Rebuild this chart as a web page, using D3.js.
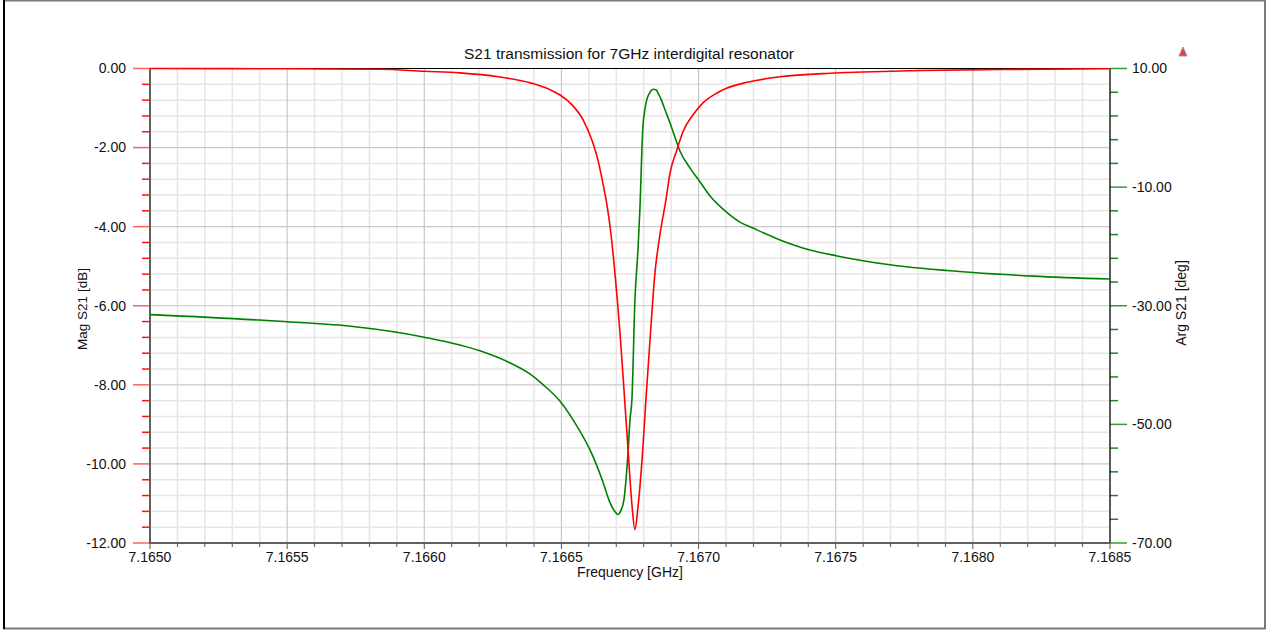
<!DOCTYPE html>
<html>
<head>
<meta charset="utf-8">
<script src="https://cdn.jsdelivr.net/npm/d3@7"></script>
<style>
  body { margin: 0; background: #fff; }
  svg { display: block; font-family: "Liberation Sans", Arial, sans-serif; }
</style>
</head>
<body>
<svg id="chart" width="1277" height="631"></svg>
<script>
// magnitude of S21 [dB] vs frequency [GHz]
var magFreq = [7.165000, 7.165500, 7.165840, 7.166000, 7.166130, 7.166270, 7.166390, 7.166460,
  7.166495, 7.166539, 7.166579, 7.166611, 7.166633, 7.166652, 7.166666, 7.166681, 7.166695,
  7.166714, 7.166728, 7.166743, 7.166757, 7.166768, 7.166779, 7.166794, 7.166808, 7.166823,
  7.166841, 7.166859, 7.166881, 7.166896, 7.166921, 7.166943, 7.166980, 7.167016, 7.167067,
  7.167104, 7.167177, 7.167297, 7.167479, 7.167600, 7.167807, 7.168099, 7.168500];
var magDb = [0.000, -0.008, -0.020, -0.070, -0.110, -0.210, -0.370, -0.540,
  -0.670, -0.920, -1.300, -1.810, -2.310, -2.930, -3.450, -4.210, -5.170,
  -6.730, -8.120, -9.640, -11.030, -11.660, -11.100, -9.890, -8.380, -6.860,
  -5.170, -4.210, -3.320, -2.640, -2.060, -1.600, -1.170, -0.870, -0.620,
  -0.495, -0.350, -0.210, -0.120, -0.090, -0.050, -0.025, -0.008];

// phase of S21 [deg]
var argFreq = [7.165000, 7.165500, 7.165740, 7.166000, 7.166203, 7.166302, 7.166385, 7.166433,
  7.166495, 7.166542, 7.166615, 7.166652, 7.166677, 7.166695, 7.166706, 7.166717, 7.166728,
  7.166735, 7.166743, 7.166750, 7.166757, 7.166768, 7.166779, 7.166786, 7.166797, 7.166804,
  7.166811, 7.166823, 7.166834, 7.166845, 7.166852, 7.166866, 7.166878, 7.166896, 7.166914,
  7.166932, 7.166969, 7.167005, 7.167042, 7.167104, 7.167151, 7.167198, 7.167297, 7.167406,
  7.167505, 7.167698, 7.168000, 7.168219, 7.168500];
var argDeg = [-31.5, -32.7, -33.5, -35.3, -37.6, -39.4, -41.5, -43.3,
  -46.1, -49.2, -55.4, -59.8, -63.2, -64.7, -65.2, -64.5, -62.7,
  -59.6, -54.6, -49.2, -45.8, -29.0, -20.6, -13.8, 0.2, 3.0,
  4.7, 6.0, 6.5, 6.4, 5.9, 4.5, 3.0, 0.8, -1.6,
  -3.9, -6.8, -9.1, -11.5, -14.3, -15.9, -16.9, -18.9, -20.6,
  -21.6, -23.1, -24.4, -25.0, -25.5];

var xTicks = [7.1650, 7.1655, 7.1660, 7.1665, 7.1670, 7.1675, 7.1680, 7.1685];
var magTicks = [0, -2, -4, -6, -8, -10, -12];
var argTicks = [10, -10, -30, -50, -70];

var svg = d3.select("#chart");
var plotL = 150, plotR = 1110, plotT = 68.5, plotB = 543;

// outer frame
svg.append("rect").attr("x", 4).attr("y", 0.5).attr("width", 1261).attr("height", 628)
  .attr("fill", "none").attr("stroke", "#7a7a7a").attr("stroke-width", 2);
svg.append("line").attr("x1", 4).attr("x2", 4).attr("y1", 0).attr("y2", 629)
  .attr("stroke", "#000").attr("stroke-width", 2);

var x = d3.scaleLinear().domain([7.165, 7.1685]).range([plotL, plotR]);
var yMag = d3.scaleLinear().domain([-12, 0]).range([plotB, plotT]);
var yArg = d3.scaleLinear().domain([-70, 10]).range([plotB, plotT]);

var grid = svg.append("g");
// minor grid
d3.range(0, 36).forEach(function(i) {
  if (i % 5 == 0) return;
  var xx = x(7.165 + i * 0.0001);
  grid.append("line").attr("x1", xx).attr("x2", xx).attr("y1", plotT).attr("y2", plotB)
    .attr("stroke", "#e6e6e6").attr("stroke-width", 1.5);
});
d3.range(0, 31).forEach(function(i) {
  if (i % 5 == 0) return;
  var yy = yMag(-i * 0.4);
  grid.append("line").attr("x1", plotL).attr("x2", plotR).attr("y1", yy).attr("y2", yy)
    .attr("stroke", "#e6e6e6").attr("stroke-width", 1.5);
});
// major grid
xTicks.forEach(function(t) {
  grid.append("line").attr("x1", x(t)).attr("x2", x(t)).attr("y1", plotT).attr("y2", plotB)
    .attr("stroke", "#c8c8c8").attr("stroke-width", 1.2);
});
magTicks.forEach(function(t) {
  grid.append("line").attr("x1", plotL).attr("x2", plotR).attr("y1", yMag(t)).attr("y2", yMag(t))
    .attr("stroke", "#c8c8c8").attr("stroke-width", 1.2);
});

// left axis (red ticks)
var leftAxis = svg.append("g");
d3.range(0, 31).forEach(function(i) {
  var yy = yMag(-i * 0.4);
  var major = i % 5 == 0;
  leftAxis.append("line").attr("x1", major ? 133 : 142).attr("x2", plotL).attr("y1", yy).attr("y2", yy)
    .attr("stroke", major ? "#ff6060" : "#ff1010").attr("stroke-width", 1.5);
});
magTicks.forEach(function(t) {
  leftAxis.append("text").attr("x", 126).attr("y", yMag(t)).attr("dy", "0.35em")
    .attr("text-anchor", "end").attr("font-size", 14).attr("fill", "#111")
    .text(t.toFixed(2));
});

// right axis (green ticks)
var rightAxis = svg.append("g");
d3.range(0, 21).forEach(function(i) {
  var yy = yArg(10 - i * 4);
  var major = i % 5 == 0;
  rightAxis.append("line").attr("x1", plotR).attr("x2", major ? 1127 : 1118).attr("y1", yy).attr("y2", yy)
    .attr("stroke", major ? "#3a9a3a" : "#1a8a1a").attr("stroke-width", 1.5);
});
argTicks.forEach(function(t) {
  rightAxis.append("text").attr("x", 1132).attr("y", yArg(t)).attr("dy", "0.35em")
    .attr("text-anchor", "start").attr("font-size", 14).attr("fill", "#111")
    .text(t.toFixed(2));
});

// bottom axis
var bottomAxis = svg.append("g");
d3.range(0, 36).forEach(function(i) {
  var xx = x(7.165 + i * 0.0001);
  bottomAxis.append("line").attr("x1", xx).attr("x2", xx).attr("y1", plotB).attr("y2", plotB + (i % 5 == 0 ? 6 : 4))
    .attr("stroke", "#555").attr("stroke-width", 1);
});
xTicks.forEach(function(t) {
  bottomAxis.append("text").attr("x", x(t)).attr("y", 557).attr("dy", "0.35em")
    .attr("text-anchor", "middle").attr("font-size", 14).attr("fill", "#111")
    .text(t.toFixed(4));
});

// frame lines of the plot area
svg.append("line").attr("x1", plotL).attr("x2", plotR).attr("y1", plotT).attr("y2", plotT)
  .attr("stroke", "#000").attr("stroke-width", 1);
svg.append("line").attr("x1", plotR).attr("x2", plotR).attr("y1", plotT).attr("y2", plotB)
  .attr("stroke", "#000").attr("stroke-width", 1.2);
svg.append("line").attr("x1", plotL).attr("x2", plotL).attr("y1", plotT).attr("y2", plotB + 1)
  .attr("stroke", "#606060").attr("stroke-width", 2);
svg.append("line").attr("x1", plotL - 1).attr("x2", plotR).attr("y1", plotB).attr("y2", plotB)
  .attr("stroke", "#606060").attr("stroke-width", 2);

// curves
var magData = magFreq.map(function(f, i) { return [f, magDb[i]]; });
var argData = argFreq.map(function(f, i) { return [f, argDeg[i]]; });

var magLine = d3.line().x(function(d) { return x(d[0]); }).y(function(d) { return yMag(d[1]); })
  .curve(d3.curveMonotoneX);
var argLine = d3.line().x(function(d) { return x(d[0]); }).y(function(d) { return yArg(d[1]); })
  .curve(d3.curveMonotoneX);

svg.append("path").datum(argData).attr("d", argLine)
  .attr("fill", "none").attr("stroke", "#008000").attr("stroke-width", 1.6);
svg.append("path").datum(magData).attr("d", magLine)
  .attr("fill", "none").attr("stroke", "#ff0000").attr("stroke-width", 1.6);

// titles
svg.append("text").attr("x", 629).attr("y", 54).attr("dy", "0.35em")
  .attr("text-anchor", "middle").attr("font-size", 15.5).attr("fill", "#111")
  .text("S21 transmission for 7GHz interdigital resonator");
svg.append("text").attr("x", 630).attr("y", 572).attr("dy", "0.35em")
  .attr("text-anchor", "middle").attr("font-size", 14).attr("fill", "#111")
  .text("Frequency [GHz]");
svg.append("text").attr("transform", "translate(82,309)rotate(-90)").attr("dy", "0.35em")
  .attr("text-anchor", "middle").attr("font-size", 13.5).attr("fill", "#111")
  .text("Mag S21 [dB]");
svg.append("text").attr("transform", "translate(1181,303)rotate(-90)").attr("dy", "0.35em")
  .attr("text-anchor", "middle").attr("font-size", 14).attr("fill", "#111")
  .text("Arg S21 [deg]");

// small marker icon at top right
svg.append("path").attr("d", "M1179,56 L1183,47 L1187,56 Z")
  .attr("fill", "#e04040").attr("stroke", "#999").attr("stroke-width", 1);
</script>
</body>
</html>
